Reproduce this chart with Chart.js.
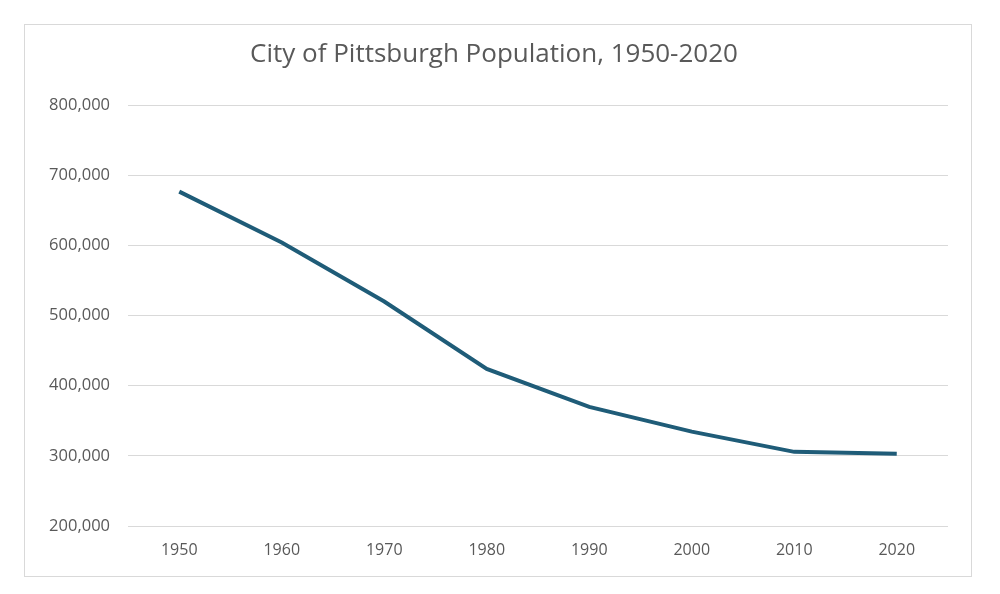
<!DOCTYPE html>
<html><head><meta charset="utf-8">
<script src="https://cdn.jsdelivr.net/npm/chart.js@4"></script>
<style>html,body{margin:0;padding:0;background:#fff}#w{width:1000px;height:594px}</style>
</head><body><div id="w"><canvas id="c"></canvas></div>
<script>
const years = ["1950","1960","1970","1980","1990","2000","2010","2020"];
const population = [676806,604332,520117,423938,369879,334563,305704,302971];
const titleText = "City of Pittsburgh Population, 1950-2020";
const frame = {id:'frame',beforeDraw(ch){const x=ch.ctx;x.save();x.fillStyle='#fff';x.fillRect(0,0,1000,594);x.strokeStyle='#d9d9d9';x.lineWidth=1;x.strokeRect(24.5,24.5,947,552);x.restore();}};
const F='"Open Sans", Lato, sans-serif';
new Chart(document.getElementById('c'),{
type:'line',
data:{labels:years,datasets:[{data:population,borderColor:'#1f5c78',borderWidth:4,pointRadius:0,tension:0,fill:false}]},
options:{responsive:true,maintainAspectRatio:false,animation:false,
layout:{padding:{left:40,right:52,top:39,bottom:30}},
plugins:{legend:{display:false},tooltip:{enabled:false},
title:{display:true,text:titleText,color:'#595959',font:{family:F,size:26,weight:'normal'},padding:{top:0,bottom:35}}},
scales:{
x:{offset:true,grid:{display:false,drawTicks:false},border:{display:false},
ticks:{color:'#595959',padding:15,font:{family:F,size:16}},
afterFit(s){s.height=38;}},
y:{min:200000,max:800000,ticks:{stepSize:100000,color:'#595959',padding:18,font:{family:F,size:16.5},
callback:v=>v.toLocaleString('en-US')},
grid:{color:'#d9d9d9',drawTicks:false},border:{display:false},
afterFit(s){s.width=88;}}
}},
plugins:[frame]});
</script></body></html>
